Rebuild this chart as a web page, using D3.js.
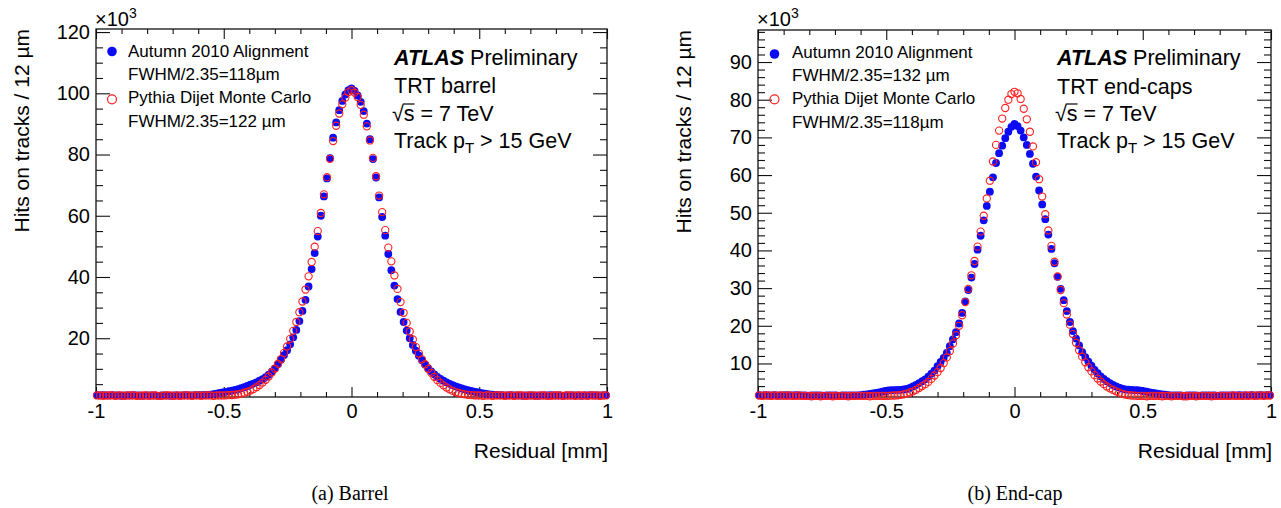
<!DOCTYPE html>
<html><head><meta charset="utf-8">
<script src="https://cdn.jsdelivr.net/npm/d3@7"></script>
<style>
body{margin:0;background:#fff}
svg{display:block}
</style>
</head><body>
<svg id="c" width="1281" height="508"></svg>
<script>
// ---------- data (thousands of hits per 12 um bin, residual -1..1 mm) ----------
const binWidth = 0.012;
const xTicks = [-1, -0.5, 0, 0.5, 1];
const barrelYTicks = [20, 40, 60, 80, 100, 120];
const endcapYTicks = [10, 20, 30, 40, 50, 60, 70, 80, 90];

const barrelData = [
1.4,1.3,1.4,1.3,1.3,1.4,1.3,1.3,1.2,1.3,1.3,1.3,1.4,1.3,1.3,1.2,1.3,1.3,1.3,1.3,1.2,1.3,1.3,1.3,1.2,1.3,1.3,1.3,1.3,1.4,1.3,1.3,1.4,1.4,1.4,1.45,
1.5,1.6,1.75,1.9,2.1,2.3,2.5,2.7,2.9,3.15,3.4,3.7,4.0,4.4,4.8,5.2,5.6,6.1,6.6,7.3,8.1,9.1,10.1,11.5,13.0,14.5,16.1,18.0,20.3,22.7,25.6,28.9,32.5,36.9,42.6,47.8,53.2,60.0,66.3,72.2,78.8,85.5,90.5,94.5,97.5,99.6,101.0,
101.6,
100.8,99.3,97.2,94.2,90.1,85.0,78.5,72.5,66.0,59.6,53.5,47.5,42.2,37.2,32.8,28.6,25.3,22.5,20.0,17.8,15.9,14.3,12.8,11.4,10.2,9.2,8.2,7.4,6.7,6.1,5.6,5.1,4.7,4.3,3.9,3.6,3.3,3.0,2.8,2.55,2.35,2.15,1.95,1.8,1.65,1.55,1.5,
1.4,1.4,1.3,1.3,1.4,1.3,1.3,1.3,1.2,1.3,1.3,1.3,1.3,1.2,1.3,1.3,1.3,1.4,1.3,1.3,1.3,1.2,1.3,1.3,1.3,1.3,1.3,1.2,1.3,1.3,1.4,1.3,1.3,1.3,1.3,1.4
];

const barrelMC = [
1.3,1.3,1.2,1.3,1.3,1.3,1.2,1.3,1.3,1.2,1.3,1.3,1.3,1.2,1.2,1.3,1.3,1.2,1.3,1.3,1.2,1.2,1.3,1.3,1.3,1.2,1.3,1.2,1.3,1.3,1.3,1.2,1.3,1.3,1.2,1.3,1.3,1.3,1.2,1.3,1.3,1.3,
1.35,1.4,1.45,1.55,1.7,1.9,2.2,2.5,2.9,3.4,4.0,4.7,5.5,6.4,7.5,8.8,10.1,11.6,13.2,15.2,17.3,19.8,22.4,25.3,28.5,32.0,35.9,40.2,44.9,49.9,55.0,60.9,67.0,72.6,78.6,84.4,89.4,93.4,96.4,98.6,100.4,
101.0,
100.2,98.8,96.2,93.0,89.2,84.6,78.9,72.9,66.6,61.2,55.3,49.6,45.1,40.5,36.1,31.8,28.3,25.0,22.2,19.6,17.1,15.0,13.1,11.5,10.0,8.7,7.4,6.3,5.4,4.6,3.9,3.3,2.8,2.4,2.1,1.85,1.65,1.5,1.4,1.35,1.3,
1.3,1.2,1.3,1.3,1.2,1.3,1.3,1.3,1.2,1.3,1.3,1.2,1.3,1.3,1.3,1.2,1.3,1.3,1.2,1.3,1.3,1.3,1.2,1.2,1.3,1.3,1.3,1.2,1.3,1.3,1.3,1.2,1.3,1.3,1.3,1.2,1.3,1.3,1.3,1.2,1.3,1.3
];

const endcapData = [
1.6,1.5,1.6,1.5,1.5,1.6,1.5,1.5,1.5,1.6,1.5,1.5,1.6,1.5,1.5,1.5,1.4,1.5,1.5,1.5,1.5,1.4,1.5,1.5,1.5,1.5,1.4,1.5,1.5,1.5,1.5,1.5,
1.55,1.6,1.7,1.8,1.9,2.05,2.2,2.35,2.5,2.7,2.85,2.9,2.95,3.0,3.0,3.1,3.25,3.5,3.9,4.3,4.8,5.3,5.8,6.5,7.3,8.1,9.3,10.4,11.5,12.8,14.6,16.4,18.3,20.6,23.4,26.5,29.5,32.8,36.4,40.2,43.9,48.0,51.8,55.6,59.4,63.2,65.8,67.8,69.8,71.5,72.8,
73.6,
73.0,71.8,70.0,68.0,65.6,63.0,59.6,55.9,52.2,48.3,44.2,40.4,36.6,33.0,29.8,26.8,23.9,21.0,18.6,16.6,14.8,13.0,11.7,10.5,9.4,8.3,7.4,6.6,5.9,5.3,4.8,4.3,3.9,3.6,3.3,3.15,3.05,3.0,2.95,2.9,2.8,2.65,2.5,2.35,2.2,2.05,1.9,1.8,1.7,1.6,1.55,
1.5,1.5,1.5,1.4,1.5,1.5,1.5,1.5,1.4,1.5,1.5,1.5,1.5,1.5,1.4,1.5,1.5,1.5,1.5,1.5,1.5,1.6,1.5,1.5,1.5,1.6,1.5,1.5,1.6,1.5,1.6,1.6
];

const endcapMC = [
1.5,1.4,1.5,1.5,1.4,1.5,1.4,1.5,1.5,1.4,1.5,1.4,1.4,1.5,1.4,1.4,1.4,1.3,1.4,1.4,1.3,1.4,1.4,1.4,1.3,1.4,1.4,1.4,1.4,1.3,1.4,1.4,1.4,1.4,1.4,1.4,1.3,1.4,1.4,1.4,1.4,1.4,1.4,1.45,
1.5,1.55,1.65,1.8,2.0,2.3,2.6,3.0,3.5,4.0,4.5,5.1,5.9,6.8,7.7,8.8,10.1,11.6,13.3,15.3,17.5,20.0,22.8,26.3,29.8,33.4,37.2,41.0,45.0,49.2,53.8,58.5,63.6,68.0,71.8,75.0,77.8,80.0,81.5,
82.1,
81.7,80.2,77.6,74.8,71.5,67.6,63.4,58.9,54.3,49.6,45.3,41.2,37.0,33.1,29.5,26.0,23.0,20.3,17.8,15.5,13.5,11.8,10.3,9.0,7.9,6.9,6.0,5.2,4.5,3.9,3.4,3.0,2.6,2.25,1.95,1.75,1.6,1.5,1.45,
1.4,1.4,1.4,1.3,1.4,1.4,1.4,1.4,1.3,1.4,1.4,1.3,1.4,1.4,1.4,1.3,1.3,1.4,1.4,1.3,1.4,1.4,1.4,1.4,1.3,1.4,1.4,1.4,1.4,1.4,1.4,1.5,1.4,1.4,1.4,1.5,1.4,1.5,1.4,1.5,1.5,1.4,1.5,1.5
];

const seriesNames = ["Autumn 2010 Alignment", "Pythia Dijet Monte Carlo"];
const barrelFWHM = ["FWHM/2.35=118\u00b5m", "FWHM/2.35=122 \u00b5m"];
const endcapFWHM = ["FWHM/2.35=132 \u00b5m", "FWHM/2.35=118\u00b5m"];

// ---------- drawing ----------
const SANS = '"Liberation Sans", Arial, Helvetica, sans-serif';
const SERIF = '"Liberation Serif", "Times New Roman", serif';
const BLUE = "#0c0cf4";
const RED = "#ff1e1e";
const svg = d3.select("#c");

const panels = [
  {data: barrelData, mc: barrelMC, left: 96, right: 607, top: 29, bottom: 397,
   yDomain: [0.8, 121], yTicks: barrelYTicks, yMinorStep: 5,
   legX: 112, legTextX: 128, legY: [51.5, 99.3], legBase: [57, 80, 103, 127], fwhm: barrelFWHM,
   labX: 394, labBase: [65, 93, 121, 148], det: "TRT barrel",
   caption: "(a) Barrel", capX: 350, yTitleX: 29},
  {data: endcapData, mc: endcapMC, left: 758, right: 1271, top: 30, bottom: 397,
   yDomain: [1.1, 98.5], yTicks: endcapYTicks, yMinorStep: 2,
   legX: 774.5, legTextX: 792, legY: [54, 99.3], legBase: [58, 81, 104, 128], fwhm: endcapFWHM,
   labX: 1057, labBase: [65, 94, 121, 148], det: "TRT end-caps",
   caption: "(b) End-cap", capX: 1015, yTitleX: 691}
];

function styleAxis(sel, fontSize) {
  sel.select(".domain").remove();
  sel.selectAll(".tick line").attr("stroke", "#111").attr("stroke-width", 1.1);
  sel.selectAll(".tick text").attr("fill", "#000").style("font-family", SANS).style("font-size", fontSize + "px");
}

panels.forEach(p => {
  const g = svg.append("g");
  const x = d3.scaleLinear().domain([-1, 1]).range([p.left, p.right]);
  const y = d3.scaleLinear().domain(p.yDomain).range([p.bottom, p.top]);

  const xMinor = d3.range(-10, 11).map(v => v / 10).filter(v => Math.abs(v * 2 - Math.round(v * 2)) > 1e-6);
  const yMinor = d3.range(p.yMinorStep, p.yDomain[1], p.yMinorStep).filter(v => !p.yTicks.includes(v));

  // bottom axis
  g.append("g").attr("transform", `translate(0,${p.bottom})`)
    .call(d3.axisBottom(x).tickValues(xTicks).tickSize(-10).tickPadding(7).tickFormat(d => String(d)))
    .call(s => styleAxis(s, 20));
  g.append("g").attr("transform", `translate(0,${p.bottom})`)
    .call(d3.axisBottom(x).tickValues(xMinor).tickSize(-5).tickFormat(""))
    .call(s => styleAxis(s, 20));
  // top axis
  g.append("g").attr("transform", `translate(0,${p.top})`)
    .call(d3.axisTop(x).tickValues(xTicks).tickSize(-10).tickFormat(""))
    .call(s => styleAxis(s, 20));
  g.append("g").attr("transform", `translate(0,${p.top})`)
    .call(d3.axisTop(x).tickValues(xMinor).tickSize(-5).tickFormat(""))
    .call(s => styleAxis(s, 20));
  // left axis
  g.append("g").attr("transform", `translate(${p.left},0)`)
    .call(d3.axisLeft(y).tickValues(p.yTicks).tickSize(-14).tickPadding(6).tickFormat(d => String(d)))
    .call(s => styleAxis(s, 20));
  g.append("g").attr("transform", `translate(${p.left},0)`)
    .call(d3.axisLeft(y).tickValues(yMinor).tickSize(-7).tickFormat(""))
    .call(s => styleAxis(s, 20));
  // right axis
  g.append("g").attr("transform", `translate(${p.right},0)`)
    .call(d3.axisRight(y).tickValues(p.yTicks).tickSize(-14).tickFormat(""))
    .call(s => styleAxis(s, 20));
  g.append("g").attr("transform", `translate(${p.right},0)`)
    .call(d3.axisRight(y).tickValues(yMinor).tickSize(-7).tickFormat(""))
    .call(s => styleAxis(s, 20));

  // frame
  g.append("rect").attr("x", p.left).attr("y", p.top)
    .attr("width", p.right - p.left).attr("height", p.bottom - p.top)
    .attr("fill", "none").attr("stroke", "#111").attr("stroke-width", 1.3);

  // points
  const xc = (arr, i) => x((i - (arr.length - 1) / 2) * binWidth);
  g.append("g").selectAll("circle").data(p.data).join("circle")
    .attr("cx", (d, i) => xc(p.data, i)).attr("cy", d => y(d)).attr("r", 3.9)
    .attr("fill", BLUE);
  g.append("g").selectAll("circle").data(p.mc).join("circle")
    .attr("cx", (d, i) => xc(p.mc, i)).attr("cy", d => y(d)).attr("r", 3.6)
    .attr("fill", "none").attr("stroke", RED).attr("stroke-width", 1.1);

  // x10^3
  const ex = g.append("text").attr("x", p.left - 1).attr("y", 26)
    .style("font-family", SANS).style("font-size", "20px").attr("fill", "#000");
  ex.append("tspan").text("\u00d710");
  ex.append("tspan").attr("dy", -8).style("font-size", "14px").text("3");

  // axis titles
  g.append("text").attr("transform", `translate(${p.yTitleX},${p.top}) rotate(-90)`)
    .attr("text-anchor", "end").style("font-family", SANS).style("font-size", "21px")
    .attr("fill", "#000").text("Hits on tracks / 12 \u00b5m");
  g.append("text").attr("x", p.right + 1).attr("y", 458).attr("text-anchor", "end")
    .style("font-family", SANS).style("font-size", "21px").attr("fill", "#000").text("Residual [mm]");

  // legend
  g.append("circle").attr("cx", p.legX).attr("cy", p.legY[0]).attr("r", 4.8).attr("fill", BLUE);
  g.append("circle").attr("cx", p.legX).attr("cy", p.legY[1]).attr("r", 4.5)
    .attr("fill", "none").attr("stroke", RED).attr("stroke-width", 1.2);
  const legLines = [seriesNames[0], p.fwhm[0], seriesNames[1], p.fwhm[1]];
  legLines.forEach((t, i) => {
    g.append("text").attr("x", p.legTextX).attr("y", p.legBase[i])
      .style("font-family", SANS).style("font-size", "17px").attr("fill", "#000").text(t);
  });

  // ATLAS label block
  const t1 = g.append("text").attr("x", p.labX).attr("y", p.labBase[0])
    .style("font-family", SANS).style("font-size", "21.5px").attr("fill", "#000");
  t1.append("tspan").style("font-weight", "bold").style("font-style", "italic").text("ATLAS");
  t1.append("tspan").text(" Preliminary");
  g.append("text").attr("x", p.labX).attr("y", p.labBase[1])
    .style("font-family", SANS).style("font-size", "21.5px").attr("fill", "#000").text(p.det);
  const t3 = g.append("text").attr("x", p.labX - 2).attr("y", p.labBase[2])
    .style("font-family", SANS).style("font-size", "21.5px").attr("fill", "#000");
  const rad = t3.append("tspan").text("\u221a");
  const sT = t3.append("tspan").text("s");
  t3.append("tspan").text(" = 7 TeV");
  const rw = rad.node().getComputedTextLength();
  const sw = sT.node().getComputedTextLength();
  g.append("line").attr("x1", p.labX - 2 + rw - 1).attr("x2", p.labX - 2 + rw + sw)
    .attr("y1", p.labBase[2] - 17).attr("y2", p.labBase[2] - 17)
    .attr("stroke", "#000").attr("stroke-width", 1.2);
  const t4 = g.append("text").attr("x", p.labX).attr("y", p.labBase[3])
    .style("font-family", SANS).style("font-size", "21.5px").attr("fill", "#000");
  t4.append("tspan").text("Track p");
  t4.append("tspan").attr("dy", 5).style("font-size", "15px").text("T");
  t4.append("tspan").attr("dy", -5).text(" > 15 GeV");

  // caption
  g.append("text").attr("x", p.capX).attr("y", 500).attr("text-anchor", "middle")
    .style("font-family", SERIF).style("font-size", "20px").attr("fill", "#000").text(p.caption);
});
</script>
</body></html>
